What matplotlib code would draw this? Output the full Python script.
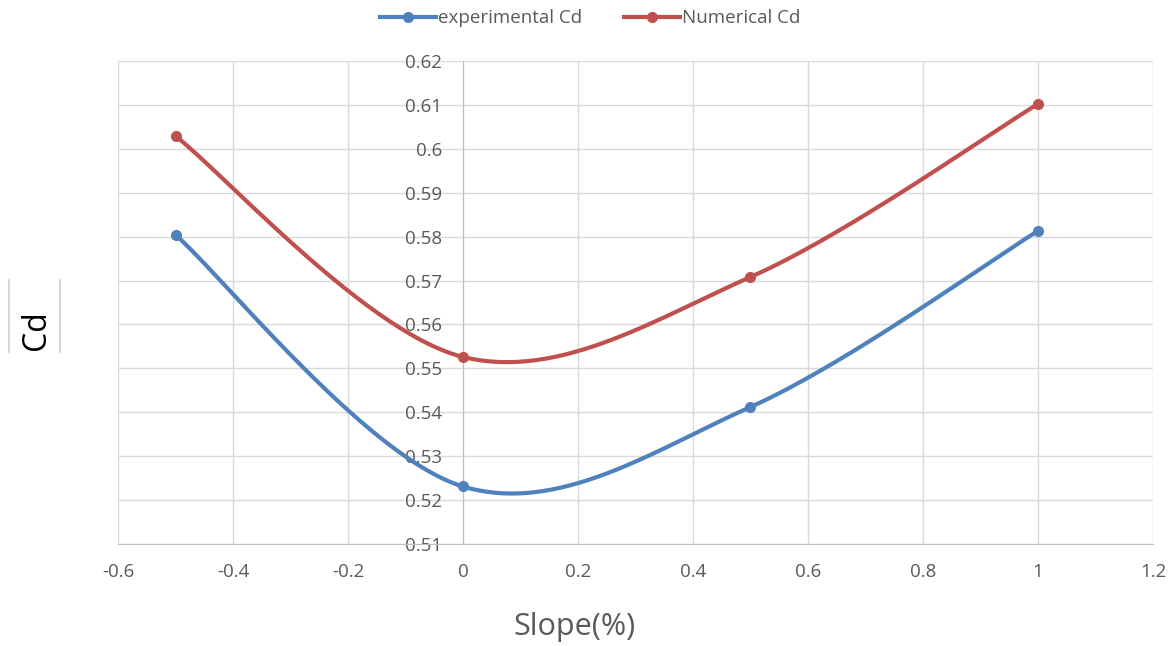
import numpy as np
import matplotlib
matplotlib.use('Agg')
import matplotlib.pyplot as plt
from matplotlib.lines import Line2D

# Discharge coefficient vs. channel slope
slope = [-0.5, 0.0, 0.5, 1.0]
cd_experimental = [0.5804, 0.5231, 0.5412, 0.5813]
cd_numerical = [0.6029, 0.5526, 0.5708, 0.6102]

x_ticks = [-0.6, -0.4, -0.2, 0, 0.2, 0.4, 0.6, 0.8, 1, 1.2]
y_ticks = [0.51, 0.52, 0.53, 0.54, 0.55, 0.56, 0.57, 0.58, 0.59, 0.6, 0.61, 0.62]

BLUE = '#4F81BD'
RED = '#C0504D'
TEXT = '#595959'
GRID = '#D9D9D9'


def smooth(xs, ys, n=60):
    # spreadsheet-style smoothed line: cubic Bezier segments with Catmull-Rom handles
    p = np.column_stack([xs, ys]).astype(float)
    p = np.vstack([p[0], p, p[-1]])
    out = []
    t = np.linspace(0, 1, n)[:, None]
    for i in range(1, len(p) - 2):
        p0, p1, p2, p3 = p[i - 1], p[i], p[i + 1], p[i + 2]
        b1 = p1 + (p2 - p0) / 6
        b2 = p2 - (p3 - p1) / 6
        seg = ((1 - t) ** 3) * p1 + 3 * ((1 - t) ** 2) * t * b1 + 3 * (1 - t) * t ** 2 * b2 + t ** 3 * p2
        out.append(seg if i == 1 else seg[1:])
    out = np.vstack(out)
    return out[:, 0], out[:, 1]


plt.rcParams['font.family'] = ['Open Sans', 'DejaVu Sans']

fig = plt.figure(figsize=(11.73, 6.46), dpi=100)
ax = fig.add_axes([0.1006, 0.1579, 0.8823, 0.7477])

for ys, color, label in [(cd_experimental, BLUE, 'experimental Cd'), (cd_numerical, RED, 'Numerical Cd')]:
    sx, sy = smooth(slope, ys)
    ax.plot(sx, sy, color=color, linewidth=3, solid_capstyle='round', zorder=3)
    ax.plot(slope, ys, 'o', color=color, markersize=7, zorder=4)

ax.set_xlim(-0.6, 1.2)
ax.set_ylim(0.51, 0.62)
ax.set_xticks(x_ticks)
ax.set_xticklabels(['-0.6', '-0.4', '-0.2', '0', '0.2', '0.4', '0.6', '0.8', '1', '1.2'])
ax.set_yticks(y_ticks)
ax.set_yticklabels(['0.51', '0.52', '0.53', '0.54', '0.55', '0.56', '0.57', '0.58', '0.59', '0.6', '0.61', '0.62'])
ax.grid(True, color=GRID, linewidth=1)
ax.set_axisbelow(True)

for s in ['top', 'right']:
    ax.spines[s].set_visible(False)
ax.spines['left'].set_position(('data', 0))
ax.spines['left'].set_color('#BFBFBF')
ax.spines['bottom'].set_color('#BFBFBF')
ax.spines['left'].set_zorder(2)
ax.tick_params(axis='both', length=0, colors=TEXT, labelsize=13.5)
ax.tick_params(axis='x', pad=14)
ax.tick_params(axis='y', pad=15)

fig.text(0.49, 0.03, 'Slope(%)', ha='center', va='center', fontsize=22, color=TEXT)
fig.text(0.031, 0.489, 'Cd', ha='center', va='center', fontsize=23, rotation=90, color='black')
# thin bars either side of the axis title box
for xf in (0.0077, 0.0512):
    fig.add_artist(Line2D([xf, xf], [1 - 352 / 646, 1 - 280 / 646], transform=fig.transFigure,
                          color='#D0D0D0', linewidth=1.2))

handles = [Line2D([0], [0], color=BLUE, lw=3, marker='o', markersize=7),
           Line2D([0], [0], color=RED, lw=3, marker='o', markersize=7)]
fig.legend(handles, ['experimental Cd', 'Numerical Cd'], loc='center', bbox_to_anchor=(0.503, 0.972),
           ncol=2, frameon=False, fontsize=13.5, labelcolor=TEXT, handlelength=3, handletextpad=0.1,
           columnspacing=2.2)

fig.savefig('out.png', dpi=100)
